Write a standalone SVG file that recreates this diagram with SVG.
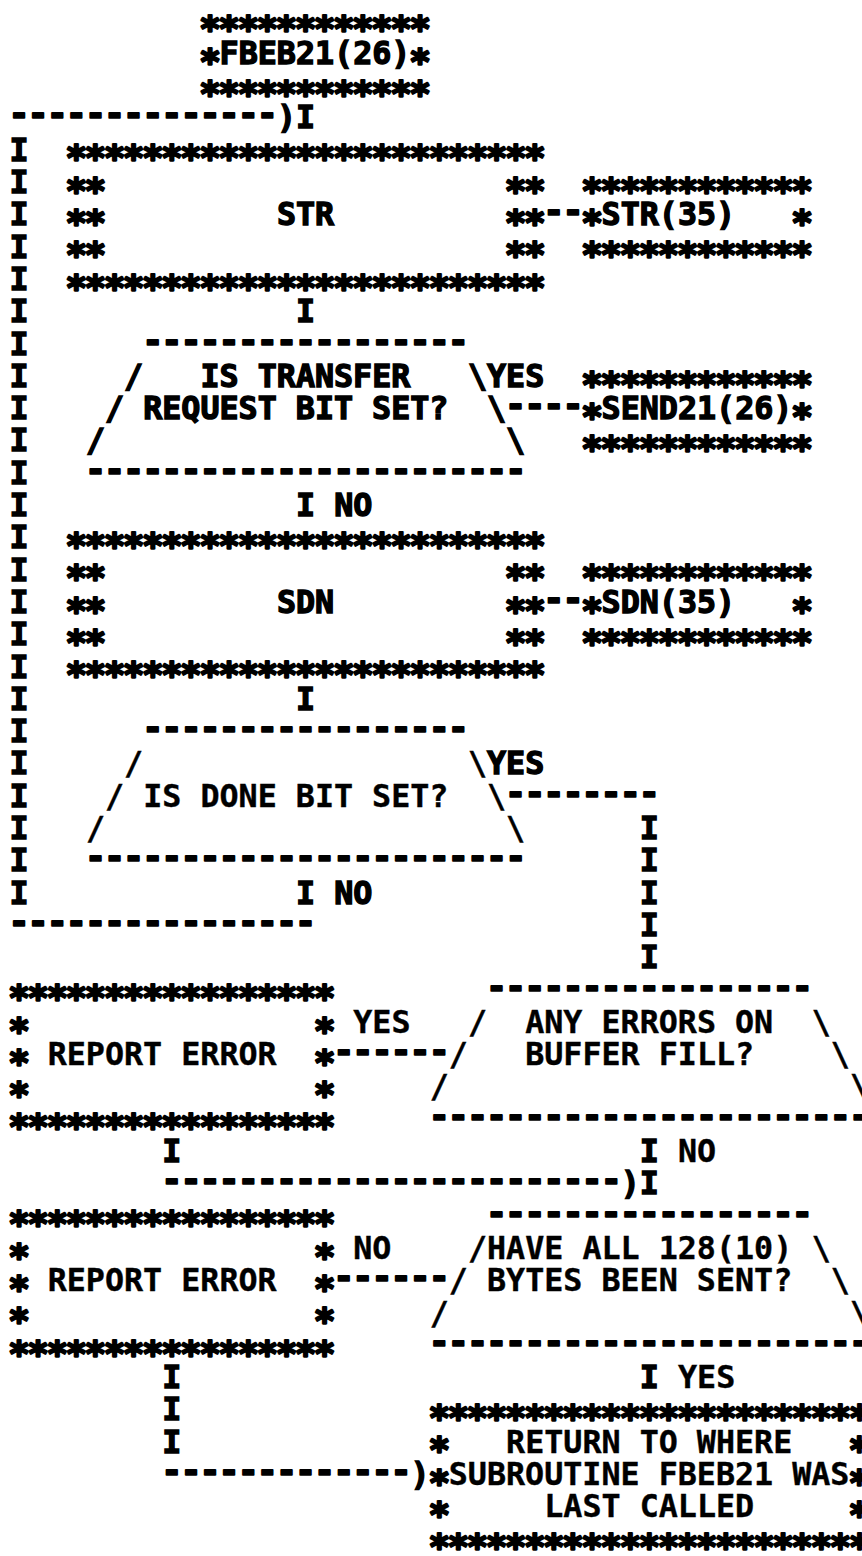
<svg xmlns="http://www.w3.org/2000/svg" width="862" height="1556" viewBox="0 0 862 1556">
<style>
text{font-family:"DejaVu Sans Mono","Liberation Mono",monospace;fill:#000}
.m{font-size:31.7px;font-weight:bold;stroke:#000;stroke-width:0.4}
.h{font-size:31.7px;font-weight:bold;stroke:#000;stroke-width:1.4}
.s{font-size:36px;font-weight:bold;letter-spacing:-2.57px;stroke:#000;stroke-width:2.2;stroke-linejoin:round}
.d{font-size:35px;font-weight:bold;letter-spacing:-1.97px;stroke:#000;stroke-width:1.6;stroke-linejoin:round}
</style>
<rect width="862" height="1556" fill="#fff"/>
<g id="connectors">
<text class="d" x="8.5" y="126.4">--------------</text>
<text class="h" x="276.9" y="128.4">)</text>
<text class="h" x="296" y="128.4">I</text>
<text class="h" x="9.5" y="160.7">I</text>
<text class="h" x="9.5" y="193">I</text>
<text class="h" x="9.5" y="225.3">I</text>
<text class="h" x="9.5" y="257.6">I</text>
<text class="h" x="9.5" y="289.9">I</text>
<text class="h" x="9.5" y="322.2">I</text>
<text class="h" x="9.5" y="354.5">I</text>
<text class="h" x="9.5" y="386.8">I</text>
<text class="h" x="9.5" y="419.1">I</text>
<text class="h" x="9.5" y="451.4">I</text>
<text class="h" x="9.5" y="483.7">I</text>
<text class="h" x="9.5" y="516">I</text>
<text class="h" x="9.5" y="548.3">I</text>
<text class="h" x="9.5" y="580.6">I</text>
<text class="h" x="9.5" y="612.9">I</text>
<text class="h" x="9.5" y="645.2">I</text>
<text class="h" x="9.5" y="677.5">I</text>
<text class="h" x="9.5" y="709.8">I</text>
<text class="h" x="9.5" y="742.1">I</text>
<text class="h" x="9.5" y="774.4">I</text>
<text class="h" x="9.5" y="806.7">I</text>
<text class="h" x="9.5" y="839">I</text>
<text class="h" x="9.5" y="871.3">I</text>
<text class="h" x="9.5" y="903.6">I</text>
<text class="d" x="543.3" y="223.3">--</text>
<text class="h" x="296" y="322.2">I</text>
<text class="h" x="487" y="386.8">YES</text>
<text class="d" x="505.1" y="417.1">----</text>
<text class="h" x="296" y="516">I</text>
<text class="h" x="334.2" y="516">NO</text>
<text class="d" x="543.3" y="610.9">--</text>
<text class="h" x="296" y="709.8">I</text>
<text class="h" x="487" y="774.4">YES</text>
<text class="d" x="505.1" y="804.7">--------</text>
<text class="h" x="639.8" y="839">I</text>
<text class="h" x="639.8" y="871.3">I</text>
<text class="h" x="639.8" y="903.6">I</text>
<text class="h" x="639.8" y="935.9">I</text>
<text class="h" x="639.8" y="968.2">I</text>
<text class="h" x="296" y="903.6">I</text>
<text class="h" x="334.2" y="903.6">NO</text>
<text class="d" x="8.5" y="933.9">----------------</text>
<text class="m" x="353.3" y="1032.8">YES</text>
<text class="d" x="333.2" y="1063.1">------</text>
<text class="h" x="162.3" y="1162">I</text>
<text class="h" x="639.8" y="1162">I</text>
<text class="m" x="678" y="1162">NO</text>
<text class="d" x="161.3" y="1192.3">------------------------</text>
<text class="h" x="620.7" y="1194.3">)</text>
<text class="h" x="639.8" y="1194.3">I</text>
<text class="m" x="353.3" y="1258.9">NO</text>
<text class="d" x="333.2" y="1289.2">------</text>
<text class="h" x="162.3" y="1388.1">I</text>
<text class="h" x="639.8" y="1388.1">I</text>
<text class="m" x="678" y="1388.1">YES</text>
<text class="h" x="162.3" y="1420.4">I</text>
<text class="h" x="162.3" y="1452.7">I</text>
<text class="d" x="161.3" y="1483">-------------</text>
<text class="h" x="410.6" y="1485">)</text>
</g>
<g id="n_fbeb21">
<text class="s" x="199.2" y="41.2">************</text>
<text class="s" x="199.2" y="73.5">*</text>
<text class="h" x="219.6" y="63.8">FBEB21(26)</text>
<text class="s" x="409.3" y="73.5">*</text>
<text class="s" x="199.2" y="105.8">************</text>
</g>
<g id="n_str">
<text class="s" x="65.5" y="170.4">*************************</text>
<text class="s" x="65.5" y="202.7">**</text>
<text class="s" x="504.8" y="202.7">**</text>
<text class="s" x="65.5" y="235">**</text>
<text class="h" x="276.9" y="225.3">STR</text>
<text class="s" x="504.8" y="235">**</text>
<text class="s" x="65.5" y="267.3">**</text>
<text class="s" x="504.8" y="267.3">**</text>
<text class="s" x="65.5" y="299.6">*************************</text>
</g>
<g id="n_str35">
<text class="s" x="581.2" y="202.7">************</text>
<text class="s" x="581.2" y="235">*</text>
<text class="h" x="601.6" y="225.3">STR(35)</text>
<text class="s" x="791.3" y="235">*</text>
<text class="s" x="581.2" y="267.3">************</text>
</g>
<g id="n_transfer">
<text class="d" x="142.2" y="352.5">-----------------</text>
<text class="h" x="124.1" y="386.8">/</text>
<text class="h" x="200.5" y="386.8">IS TRANSFER</text>
<text class="h" x="467.9" y="386.8">\</text>
<text class="h" x="105" y="419.1">/</text>
<text class="h" x="143.2" y="419.1">REQUEST BIT SET?</text>
<text class="h" x="487" y="419.1">\</text>
<text class="h" x="85.9" y="451.4">/</text>
<text class="h" x="506.1" y="451.4">\</text>
<text class="d" x="84.9" y="481.7">-----------------------</text>
</g>
<g id="n_send21">
<text class="s" x="581.2" y="396.5">************</text>
<text class="s" x="581.2" y="428.8">*</text>
<text class="h" x="601.6" y="419.1">SEND21(26)</text>
<text class="s" x="791.3" y="428.8">*</text>
<text class="s" x="581.2" y="461.1">************</text>
</g>
<g id="n_sdn">
<text class="s" x="65.5" y="558">*************************</text>
<text class="s" x="65.5" y="590.3">**</text>
<text class="s" x="504.8" y="590.3">**</text>
<text class="s" x="65.5" y="622.6">**</text>
<text class="h" x="276.9" y="612.9">SDN</text>
<text class="s" x="504.8" y="622.6">**</text>
<text class="s" x="65.5" y="654.9">**</text>
<text class="s" x="504.8" y="654.9">**</text>
<text class="s" x="65.5" y="687.2">*************************</text>
</g>
<g id="n_sdn35">
<text class="s" x="581.2" y="590.3">************</text>
<text class="s" x="581.2" y="622.6">*</text>
<text class="h" x="601.6" y="612.9">SDN(35)</text>
<text class="s" x="791.3" y="622.6">*</text>
<text class="s" x="581.2" y="654.9">************</text>
</g>
<g id="n_done">
<text class="d" x="142.2" y="740.1">-----------------</text>
<text class="m" x="124.1" y="774.4">/</text>
<text class="m" x="467.9" y="774.4">\</text>
<text class="m" x="105" y="806.7">/</text>
<text class="m" x="143.2" y="806.7">IS DONE BIT SET?</text>
<text class="m" x="487" y="806.7">\</text>
<text class="m" x="85.9" y="839">/</text>
<text class="m" x="506.1" y="839">\</text>
<text class="d" x="84.9" y="869.3">-----------------------</text>
</g>
<g id="n_err1">
<text class="s" x="8.2" y="1010.2">*****************</text>
<text class="s" x="8.2" y="1042.5">*</text>
<text class="s" x="313.8" y="1042.5">*</text>
<text class="s" x="8.2" y="1074.8">*</text>
<text class="m" x="47.7" y="1065.1">REPORT ERROR</text>
<text class="s" x="313.8" y="1074.8">*</text>
<text class="s" x="8.2" y="1107.1">*</text>
<text class="s" x="313.8" y="1107.1">*</text>
<text class="s" x="8.2" y="1139.4">*****************</text>
</g>
<g id="n_anyerr">
<text class="d" x="486" y="998.5">-----------------</text>
<text class="m" x="467.9" y="1032.8">/</text>
<text class="m" x="525.2" y="1032.8">ANY ERRORS ON</text>
<text class="m" x="811.7" y="1032.8">\</text>
<text class="m" x="448.8" y="1065.1">/</text>
<text class="m" x="525.2" y="1065.1">BUFFER FILL?</text>
<text class="m" x="830.8" y="1065.1">\</text>
<text class="m" x="429.7" y="1097.4">/</text>
<text class="m" x="849.9" y="1097.4">\</text>
<text class="d" x="428.7" y="1127.7">-----------------------</text>
</g>
<g id="n_err2">
<text class="s" x="8.2" y="1236.3">*****************</text>
<text class="s" x="8.2" y="1268.6">*</text>
<text class="s" x="313.8" y="1268.6">*</text>
<text class="s" x="8.2" y="1300.9">*</text>
<text class="m" x="47.7" y="1291.2">REPORT ERROR</text>
<text class="s" x="313.8" y="1300.9">*</text>
<text class="s" x="8.2" y="1333.2">*</text>
<text class="s" x="313.8" y="1333.2">*</text>
<text class="s" x="8.2" y="1365.5">*****************</text>
</g>
<g id="n_bytes">
<text class="d" x="486" y="1224.6">-----------------</text>
<text class="m" x="467.9" y="1258.9">/</text>
<text class="m" x="487" y="1258.9">HAVE ALL 128(10)</text>
<text class="m" x="811.7" y="1258.9">\</text>
<text class="m" x="448.8" y="1291.2">/</text>
<text class="m" x="487" y="1291.2">BYTES BEEN SENT?</text>
<text class="m" x="830.8" y="1291.2">\</text>
<text class="m" x="429.7" y="1323.5">/</text>
<text class="m" x="849.9" y="1323.5">\</text>
<text class="d" x="428.7" y="1353.8">-----------------------</text>
</g>
<g id="n_return">
<text class="s" x="428.4" y="1430.1">***********************</text>
<text class="s" x="428.4" y="1462.4">*</text>
<text class="m" x="506.1" y="1452.7">RETURN TO WHERE</text>
<text class="s" x="848.6" y="1462.4">*</text>
<text class="s" x="428.4" y="1494.7">*</text>
<text class="m" x="448.8" y="1485">SUBROUTINE FBEB21 WAS</text>
<text class="s" x="848.6" y="1494.7">*</text>
<text class="s" x="428.4" y="1527">*</text>
<text class="m" x="544.3" y="1517.3">LAST CALLED</text>
<text class="s" x="848.6" y="1527">*</text>
<text class="s" x="428.4" y="1559.3">***********************</text>
</g>
</svg>
